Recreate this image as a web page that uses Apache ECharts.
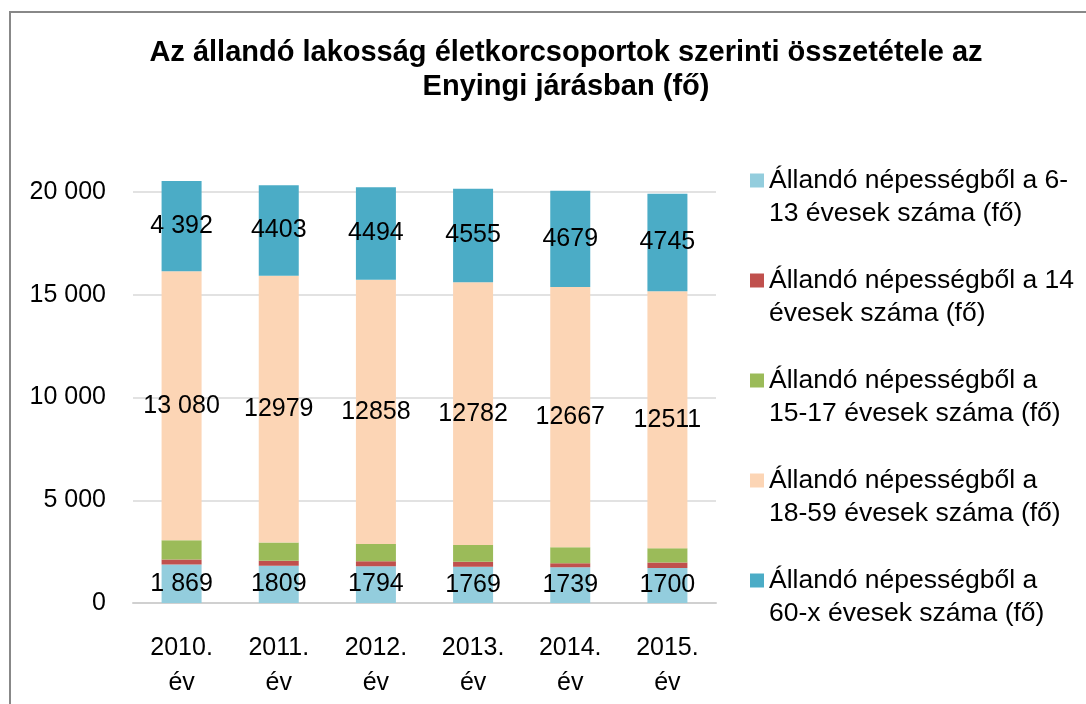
<!DOCTYPE html>
<html><head><meta charset="utf-8">
<script src="https://cdn.jsdelivr.net/npm/echarts@6/dist/echarts.min.js"></script>
<style>html,body{margin:0;padding:0;background:#fff}#c{width:1086px;height:704px}</style>
</head><body><div id="c"></div><script>
const categories = ['2010.\név','2011.\név','2012.\név','2013.\név','2014.\név','2015.\név'];
const seriesNames = [
  'Állandó népességből a 6-\n13 évesek száma (fő)',
  'Állandó népességből a 14\névesek száma (fő)',
  'Állandó népességből a\n15-17 évesek száma (fő)',
  'Állandó népességből a\n18-59 évesek száma (fő)',
  'Állandó népességből a\n60-x évesek száma (fő)'
];
const age6_13  = [1869, 1809, 1794, 1769, 1739, 1700];
const age14    = [250, 245, 240, 240, 200, 270];
const age15_17 = [940, 890, 840, 815, 770, 690];
const age18_59 = [13080, 12979, 12858, 12782, 12667, 12511];
const age60x   = [4392, 4403, 4494, 4555, 4679, 4745];
const spacedLabels = [true, false, false, false, false, false];
const yMin = 0, yMax = 20000, yStep = 5000;
const colors = ['#93CDDD', '#C0504D', '#9BBB59', '#FCD5B5', '#4BACC6'];

const FONT = 'Liberation Sans, Arial, sans-serif';
function spaced(v){ return String(v).replace(/\B(?=(\d{3})+(?!\d))/g, ' '); }
function mk(name, data, color, showLabel){
  return {
    name, type: 'bar', stack: 'total', data, clip: false,
    barWidth: 40,
    itemStyle: { color },
    label: {
      show: showLabel, position: 'inside', color: '#000', fontSize: 25, fontFamily: FONT,
      formatter: p => spacedLabels[p.dataIndex] ? spaced(p.value) : String(p.value)
    },
    emphasis: { disabled: true }
  };
}
const chart = echarts.init(document.getElementById('c'), null, {renderer: 'canvas'});
chart.setOption({
  animation: false,
  backgroundColor: '#fff',
  title: {
    text: 'Az állandó lakosság életkorcsoportok szerinti összetétele az\nEnyingi járásban (fő)',
    left: 566, top: 36, textAlign: 'center', padding: 0,
    textStyle: { fontSize: 29, fontWeight: 'bold', fontFamily: FONT, color: '#000', lineHeight: 34 }
  },
  graphic: [{
    type: 'rect', shape: { x: 10, y: 12, width: 1200, height: 900 },
    style: { fill: 'none', stroke: '#888', lineWidth: 2 }, silent: true, z: -1
  }],
  legend: {
    orient: 'vertical', left: 750, top: 131, padding: 0,
    itemWidth: 14, itemHeight: 14, itemGap: 1, icon: 'rect',
    formatter: n => '\n' + n,
    textStyle: { fontSize: 26.5, lineHeight: 33, fontFamily: FONT, color: '#000' },
    selectedMode: false
  },
  grid: { left: 133, right: 370, top: 192, bottom: 101, containLabel: false },
  xAxis: {
    type: 'category', data: categories,
    axisLine: { lineStyle: { color: '#d0d0d0', width: 2 } },
    axisTick: { show: false },
    axisLabel: { fontSize: 25, fontFamily: FONT, color: '#000', lineHeight: 35, margin: 28 }
  },
  yAxis: {
    type: 'value', min: yMin, max: yMax, interval: yStep,
    axisLine: { show: false }, axisTick: { show: false },
    splitLine: { lineStyle: { color: '#d9d9d9', width: 1.5 } },
    axisLabel: { fontSize: 25, fontFamily: FONT, color: '#000', margin: 27, formatter: v => spaced(v) }
  },
  series: [
    mk(seriesNames[0], age6_13, colors[0], true),
    mk(seriesNames[1], age14, colors[1], false),
    mk(seriesNames[2], age15_17, colors[2], false),
    mk(seriesNames[3], age18_59, colors[3], true),
    mk(seriesNames[4], age60x, colors[4], true)
  ]
});
</script></body></html>
